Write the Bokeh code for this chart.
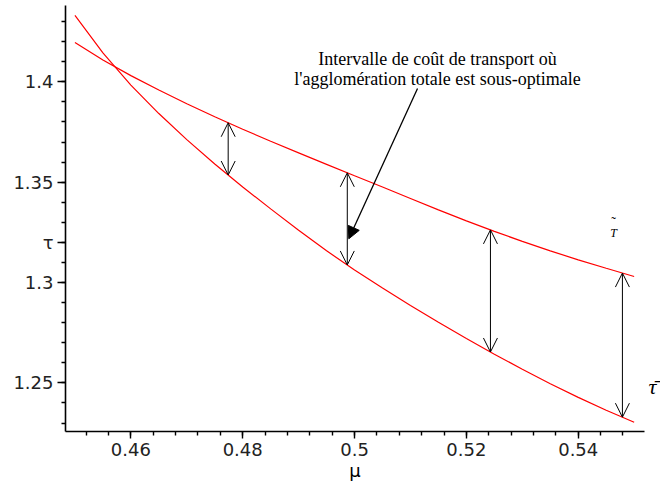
import numpy as np
from bokeh.plotting import figure
from bokeh.models import Range1d, FixedTicker, Label, Arrow, OpenHead, NormalHead, LinearAxis
from bokeh.embed import file_html
from bokeh.resources import INLINE

# ---- data ----
mu = [0.450, 0.455, 0.460, 0.465, 0.470, 0.475, 0.480, 0.485, 0.490, 0.495, 0.500,
      0.505, 0.510, 0.515, 0.520, 0.525, 0.530, 0.535, 0.540, 0.545, 0.550]
tau_tilde_T = [1.4196, 1.4109, 1.4031, 1.3959, 1.3891, 1.3826, 1.3764, 1.3704, 1.3646, 1.3589, 1.3532,
               1.3476, 1.3419, 1.3362, 1.3307, 1.3255, 1.3205, 1.3158, 1.3113, 1.3071, 1.3030]
tau_bar = [1.4331, 1.4144, 1.3984, 1.3842, 1.3712, 1.3591, 1.3476, 1.3367, 1.3261, 1.3158, 1.3063,
           1.2973, 1.2886, 1.2802, 1.2721, 1.2643, 1.2568, 1.2496, 1.2428, 1.2364, 1.2304]

arrow_mu = [0.4774, 0.4987, 0.5243, 0.5479]

x_ticks = [0.46, 0.48, 0.50, 0.52, 0.54]
x_tick_labels = ["0.46", "0.48", "0.5", "0.52", "0.54"]
y_ticks = [1.25, 1.30, 1.35, 1.40]
y_tick_labels = ["1.25", "1.3", "1.35", "1.4"]

# axis symbol for τ sits in the tick-label column, at this height
y_symbol_pos = 1.32
y_symbol = "τ"

annotation_lines = ["Intervalle de coût de transport où",
                    "l'agglomération totale est sous-optimale"]

# ---- figure ----
p = figure(width=660, height=488, output_backend="svg", toolbar_location=None,
           x_range=Range1d(0.44831, 0.55185), y_range=Range1d(1.22578, 1.43804),
           x_axis_type=None, y_axis_type=None,
           min_border_left=65, min_border_right=16, min_border_top=5, min_border_bottom=57)
p.outline_line_color = None
p.background_fill_color = "white"
p.border_fill_color = "white"
p.xgrid.visible = False
p.ygrid.visible = False

x_minor = [round(0.448 + 0.004 * i, 3) for i in range(27)]
y_minor = [round(1.23 + 0.01 * i, 2) for i in range(21)]

y_major = y_ticks + [y_symbol_pos]
y_overrides = {t: l for t, l in zip(y_ticks, y_tick_labels)}
y_overrides[y_symbol_pos] = y_symbol

xaxis = LinearAxis(ticker=FixedTicker(ticks=x_ticks, minor_ticks=x_minor),
                   major_label_overrides={t: l for t, l in zip(x_ticks, x_tick_labels)},
                   axis_label="μ")
yaxis = LinearAxis(ticker=FixedTicker(ticks=y_major, minor_ticks=y_minor),
                   major_label_overrides=y_overrides)
for ax in (xaxis, yaxis):
    ax.axis_line_color = "black"
    ax.axis_line_width = 1.6
    ax.major_tick_line_color = "black"
    ax.minor_tick_line_color = "black"
    ax.major_tick_line_width = 1.4
    ax.minor_tick_line_width = 1.4
    ax.major_tick_in = 0
    ax.minor_tick_in = 0
    ax.major_label_text_font = "DejaVu Sans"
    ax.major_label_text_font_size = "18px"
    ax.major_label_text_color = "#222222"
xaxis.major_tick_out = 7
xaxis.minor_tick_out = 4
xaxis.major_label_standoff = 4
xaxis.axis_label_standoff = 1
xaxis.axis_label_text_font = "DejaVu Sans"
xaxis.axis_label_text_font_size = "18px"
xaxis.axis_label_text_font_style = "normal"
xaxis.axis_label_text_color = "black"
yaxis.major_tick_out = 8
yaxis.minor_tick_out = 4
yaxis.major_label_standoff = 4
p.add_layout(xaxis, "below")
p.add_layout(yaxis, "left")

# right-hand curve label drawn as a lone tick label of a bare right axis
tau_bar_label_pos = [1.2482]
raxis = LinearAxis(ticker=FixedTicker(ticks=tau_bar_label_pos, minor_ticks=[]),
                   major_label_overrides={tau_bar_label_pos[0]: "τ\u0304"})
raxis.axis_line_color = None
raxis.major_tick_line_color = None
raxis.minor_tick_line_color = None
raxis.major_tick_out = 0
raxis.minor_tick_out = 0
raxis.major_label_standoff = 4
raxis.major_label_text_font = "Liberation Serif"
raxis.major_label_text_font_style = "italic"
raxis.major_label_text_font_size = "22px"
raxis.major_label_text_color = "black"
p.add_layout(raxis, "right")

# ---- curves ----
p.line(mu, tau_tilde_T, line_color="#ff0000", line_width=1.2)
p.line(mu, tau_bar, line_color="#ff0000", line_width=1.2)

# ---- double arrows between the curves ----
top = np.interp(arrow_mu, mu, tau_tilde_T)
bot = np.interp(arrow_mu, mu, tau_bar)
for m, t, b in zip(arrow_mu, top, bot):
    p.add_layout(Arrow(x_start=m, y_start=b, x_end=m, y_end=t,
                       start=OpenHead(size=14, line_color="black", line_width=1),
                       end=OpenHead(size=14, line_color="black", line_width=1),
                       line_color="black", line_width=1))

# ---- annotation ----
p.add_layout(Label(x=0.51483, y=1.41163, text=annotation_lines[0], text_align="center",
                   text_baseline="middle", text_font="Liberation Serif", text_font_size="18px",
                   text_color="black"))
p.add_layout(Label(x=0.51483, y=1.40166, text=annotation_lines[1], text_align="center",
                   text_baseline="middle", text_font="Liberation Serif", text_font_size="18px",
                   text_color="black"))
p.add_layout(Arrow(x_start=0.51126, y_start=1.39669, x_end=0.49897, y_end=1.3218,
                   end=NormalHead(size=12, fill_color="black", line_color="black"),
                   line_color="black", line_width=1.3))

# ---- small curve label (tilde tau_T) ----
p.add_layout(Label(x=0.54631, y=1.32992, text="˜", text_align="center", text_baseline="middle",
                   text_font="Liberation Serif", text_font_size="14px", text_color="black"))
p.add_layout(Label(x=0.54631, y=1.32444, text="T", text_align="center", text_baseline="middle",
                   text_font="Liberation Serif", text_font_style="italic", text_font_size="12px",
                   text_color="black"))

open("out.html", "w").write(file_html(p, INLINE))
